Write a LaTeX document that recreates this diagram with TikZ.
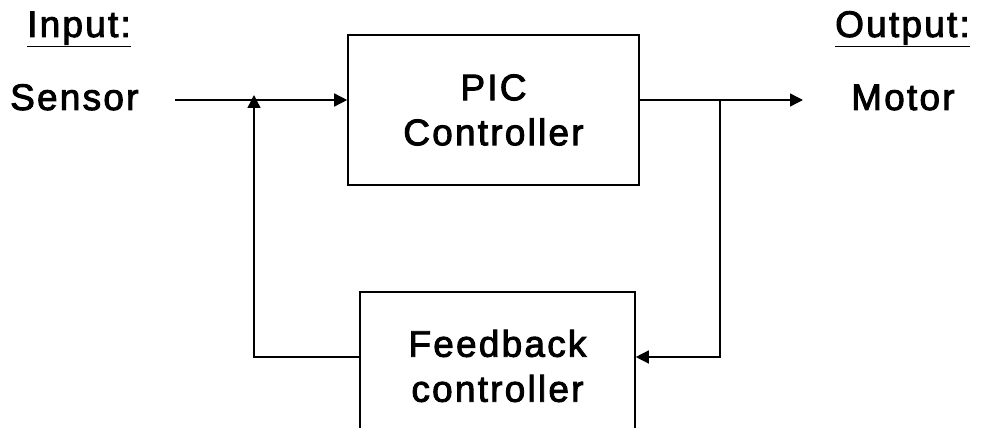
\documentclass[tikz,border=0pt]{standalone}
\usepackage{fontspec}
\setmainfont[LetterSpace=6, FakeBold=2.5]{Liberation Sans}
\usetikzlibrary{arrows.meta}
\tikzset{
  wire/.style={line width=1.4pt, black},
  arr/.style={wire, -{Triangle[length=13pt,width=13pt]}},
  blockbox/.style={draw, line width=1.6pt, align=center, inner sep=0pt},
  label/.style={inner sep=0pt, anchor=base west},
}
\begin{document}
\begin{tikzpicture}[x=1pt, y=-1pt, font=\fontsize{37}{45}\selectfont]
\useasboundingbox (0,0) rectangle (986,428);
\clip (0,0) rectangle (986,428);

% blocks
\node[blockbox, minimum width=291pt, minimum height=150pt] (pic) at (493.5,110) {PIC\\Controller};
\node[blockbox, minimum width=275pt, minimum height=148pt] (fb) at (497.5,366) {Feedback\\controller};

% texts
\node[label] (input) at (27,37) {\underline{Input:}};
\node[label] (output) at (835,37) {\underline{Output:}};
\node[label] (sensor) at (10,110) {Sensor};
\node[label] (motor) at (851,110) {Motor};

% junctions
\coordinate (inStart) at (175,100);
\coordinate (inJ) at (254,100);
\coordinate (outJ) at (720,100);
\coordinate (outEnd) at (803,100);
\coordinate (fbLevel) at (0,357);

% forward path
\draw[arr] (inStart) -- (inStart -| pic.west);
\draw[wire] (outJ -| pic.east) -- (outJ);
\draw[arr] (outJ) -- (outEnd);

% feedback path
\draw[arr] (outJ) |- (fbLevel -| fb.east);
\draw[arr] (fbLevel -| fb.west) -| ([yshift=5pt]inJ);
\end{tikzpicture}
\end{document}
